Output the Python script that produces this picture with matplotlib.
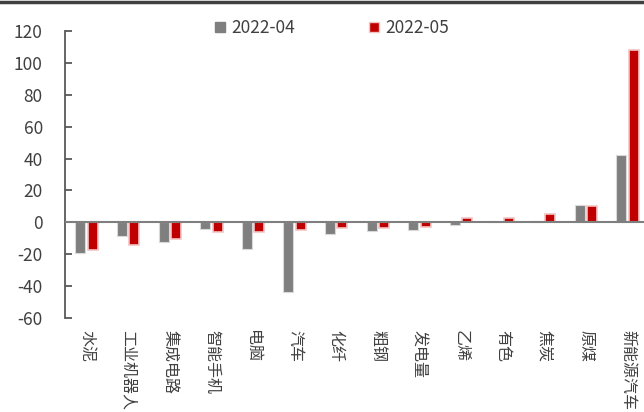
import numpy as np
import matplotlib.pyplot as plt
from matplotlib.lines import Line2D

plt.rcParams['font.family'] = ['Noto Sans CJK SC', 'DejaVu Sans']
plt.rcParams['axes.unicode_minus'] = False

# 各行业产量同比增速(%)
categories = ['水泥', '工业机器人', '集成电路', '智能手机', '电脑', '汽车', '化纤',
              '粗钢', '发电量', '乙烯', '有色', '焦炭', '原煤', '新能源汽车']
apr = [-19, -8.5, -12.5, -4, -17, -43.5, -7.5, -5.5, -4.5, -1.5, 0, 1, 11, 42]
may = [-17.5, -14, -10.5, -6, -6, -4.5, -3.5, -3.5, -3, 2.5, 3, 5.5, 10, 108]
legend_labels = ['2022-04', '2022-05']

fig = plt.figure(figsize=(6.44, 4.12), dpi=100)
ax = fig.add_axes([65/644, 94/412, 579/644, 287/412])

x = np.arange(len(categories))
w = 0.24
ax.bar(x - 0.15, apr, w, color='#7f7f7f', edgecolor='#d9d9d9', linewidth=0.8,
       label=legend_labels[0], zorder=2)
ax.bar(x + 0.15, may, w, color='#c00000', edgecolor='#f2c4c4', linewidth=1.2,
       label=legend_labels[1], zorder=2)

ax.axhline(0, color='#7f7f7f', linewidth=1.5, zorder=3)
ax.set_xlim(-0.52, 13.4)
ax.set_ylim(-60, 120)
ax.set_yticks(np.arange(-60, 121, 20))

for s in ['top', 'right', 'bottom']:
    ax.spines[s].set_visible(False)
ax.spines['left'].set_color('#595959')
ax.spines['left'].set_linewidth(1.3)
ax.tick_params(axis='y', direction='in', length=5, width=1.3, color='#595959',
               labelsize=12.5, labelcolor='#404040', pad=16)
ax.set_xticks(x)
ax.set_xticklabels(categories, rotation=-90, va='top', ha='center',
                   fontsize=11.5, color='#404040')
ax.tick_params(axis='x', length=0, pad=9)

handles = [Line2D([], [], marker='s', linestyle='none', markersize=7,
                  markerfacecolor='#7f7f7f', markeredgecolor='#7f7f7f'),
           Line2D([], [], marker='s', linestyle='none', markersize=7,
                  markerfacecolor='#c00000', markeredgecolor='#f2c4c4')]
fig.legend(handles, legend_labels, loc='center', bbox_to_anchor=(0.515, 0.932),
           ncol=2, frameon=False, fontsize=12.5, handlelength=0.7,
           handletextpad=0.3, columnspacing=4.2, labelcolor='#404040')

# 顶部深色分隔线
fig.add_artist(Line2D([0, 1], [0.996, 0.996], color='#404040', linewidth=2.5,
                      transform=fig.transFigure))

fig.savefig('out.png', dpi=100)
